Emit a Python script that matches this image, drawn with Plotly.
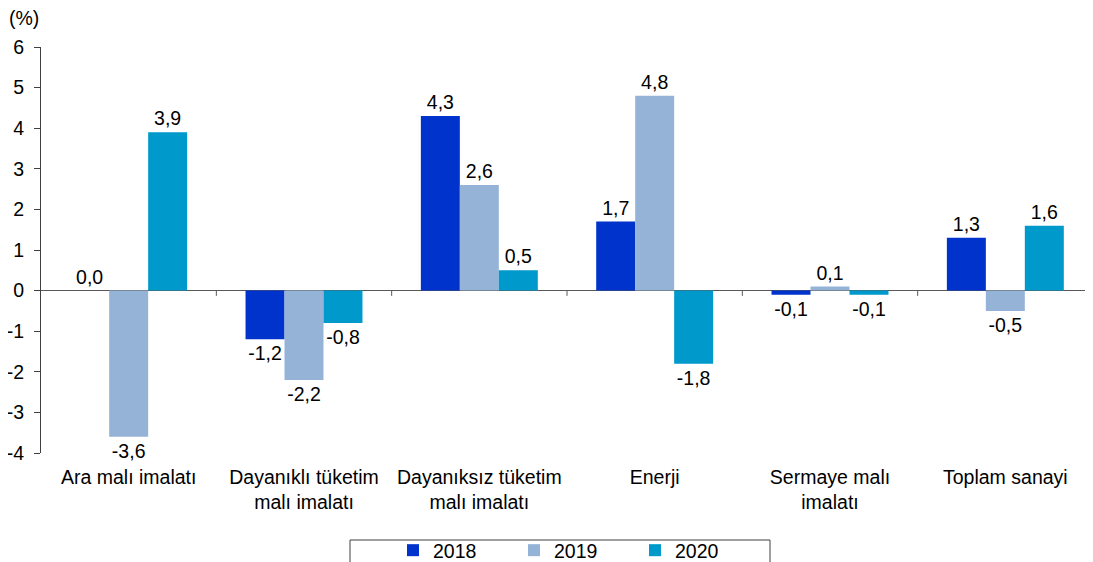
import plotly.graph_objects as go

categories = ["Ara malı imalatı", "Dayanıklı tüketim<br>malı imalatı",
              "Dayanıksız tüketim<br>malı imalatı", "Enerji",
              "Sermaye malı<br>imalatı", "Toplam sanayi"]
years = ["2018", "2019", "2020"]
values_2018 = [0.0, -1.2, 4.3, 1.7, -0.1, 1.3]
values_2019 = [-3.6, -2.2, 2.6, 4.8, 0.1, -0.5]
values_2020 = [3.9, -0.8, 0.5, -1.8, -0.1, 1.6]
y_ticks = [-4, -3, -2, -1, 0, 1, 2, 3, 4, 5, 6]

colors = ["#0033CC", "#95B3D7", "#0099CC"]
series = [values_2018, values_2019, values_2020]
FONT = "Liberation Sans, Arial, sans-serif"
FS = 19.5

def fmt(v):
    return f"{v:.1f}".replace(".", ",")

fig = go.Figure()
xs = list(range(len(categories)))
for name, vals, col in zip(years, series, colors):
    fig.add_trace(go.Bar(
        x=xs, y=vals, name=name, marker=dict(color=col, line=dict(width=0)),
        text=[fmt(v) for v in vals], textposition="outside",
        textfont=dict(family=FONT, size=FS, color="#000000"),
        cliponaxis=False,
    ))

# page body has an 8px margin: figure coordinates = window coordinates - 8
OFF = 8
FW, FH = 1093 - OFF, 562 - OFF
L, R, T, B = 41 - OFF, 1093 - OFF, 47 - OFF, 453 - OFF
H = B - T
W = R - L

# boundary ticks on the zero line
shapes = []
for k in range(len(categories)):
    shapes.append(dict(type="line", xref="x", yref="y", x0=k + 0.5, x1=k + 0.5,
                       y0=0, y1=-0.13, line=dict(color="#595959", width=1)))
# legend box
shapes.append(dict(type="rect", xref="paper", yref="paper",
                   x0=(350 - OFF - L) / W, x1=(770 - OFF - L) / W,
                   y0=(B - (575 - OFF)) / H, y1=(B - (540 - OFF)) / H,
                   line=dict(color="#404040", width=1), fillcolor="rgba(0,0,0,0)"))

fig.update_layout(
    width=FW, height=FH,
    margin=dict(l=L, r=FW - R, t=T, b=FH - B, autoexpand=False),
    paper_bgcolor="white", plot_bgcolor="white",
    barmode="group", bargap=0.333, bargroupgap=0,
    font=dict(family=FONT, size=FS, color="#000000"),
    showlegend=True,
    legend=dict(orientation="h", xref="container", yref="container",
                x=(393 - OFF) / FW, y=1 - (531 - OFF) / FH, xanchor="left", yanchor="top",
                entrywidth=76, entrywidthmode="pixels",
                font=dict(family=FONT, size=FS, color="#000000"),
                bgcolor="rgba(0,0,0,0)", borderwidth=0,
                itemclick=False, traceorder="normal"),
    xaxis=dict(tickmode="array", tickvals=xs, ticktext=categories,
               range=[-0.5, len(categories) - 0.5], showline=False,
               ticks="", showgrid=False, zeroline=False,
               tickfont=dict(family=FONT, size=FS, color="#000000"),
               ticklabelstandoff=10),
    yaxis=dict(range=[-4, 6], tickmode="array", tickvals=y_ticks,
               ticktext=[str(v) for v in y_ticks],
               showgrid=False, zeroline=True, zerolinecolor="#595959", zerolinewidth=1,
               showline=True, linecolor="#404040", linewidth=1,
               ticks="outside", ticklen=6, tickcolor="#404040",
               tickfont=dict(family=FONT, size=FS, color="#000000"),
               ticklabelstandoff=6),
    shapes=shapes,
    annotations=[dict(text="(%)", xref="paper", yref="paper",
                      x=(7 - OFF - L) / W, y=1 + (T - (18 - OFF)) / H,
                      xanchor="left", yanchor="middle",
                      showarrow=False, font=dict(family=FONT, size=FS, color="#000000"))],
)

fig.write_html("out.html")
